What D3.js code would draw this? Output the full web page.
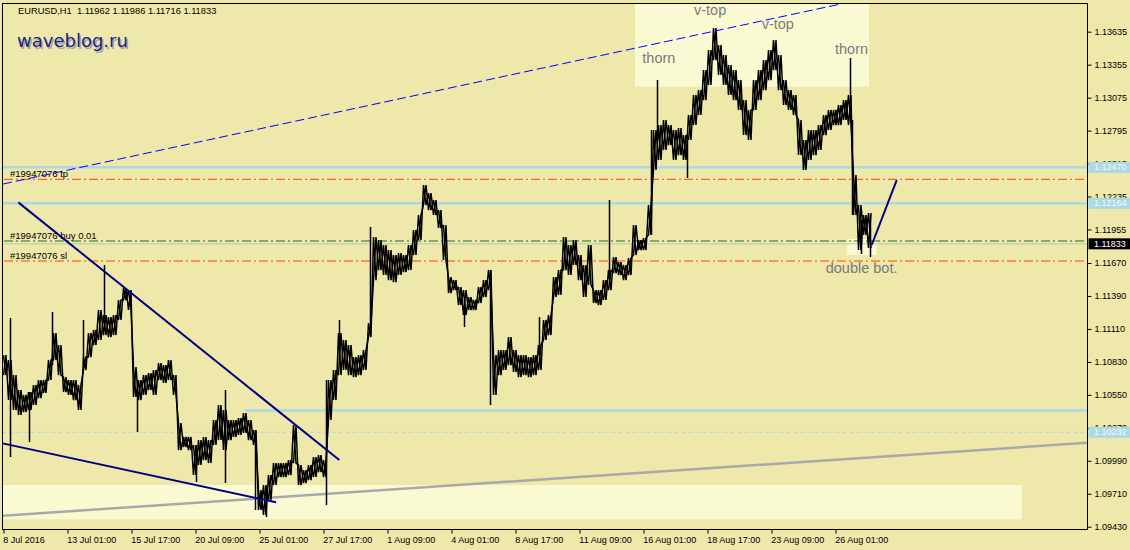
<!DOCTYPE html>
<html><head><meta charset="utf-8">
<script src="https://cdn.jsdelivr.net/npm/d3@7"></script>
<style>html,body{margin:0;padding:0;background:#EEE8AA;}svg{display:block}</style>
</head><body><svg id="c" width="1130" height="550"></svg>
<script>
// ---------------- DATA ----------------
const header = "EURUSD,H1  1.11962 1.11986 1.11716 1.11833";
const watermark = "waveblog.ru";
const STEP = 5; // hourly bars per sample
const hi = [1.10888,1.10846,1.10718,1.10591,1.10549,1.10574,1.10634,1.10676,1.10676,1.10846,
1.11075,1.10973,1.10701,1.10676,1.10676,1.10634,1.10871,1.11075,1.11101,1.11271,
1.11228,1.11211,1.11228,1.11356,1.11457,1.11440,1.10786,1.10676,1.10718,1.10735,
1.10761,1.10820,1.10803,1.10846,1.10718,1.10311,1.10192,1.10192,1.10124,1.10166,
1.10192,1.10166,1.10336,1.10464,1.10421,1.10336,1.10336,1.10353,1.10396,1.10336,
1.10251,1.09742,1.09784,1.09869,1.09971,1.09971,1.09971,1.09996,1.10294,1.09954,
1.09911,1.09954,1.10022,1.10039,1.09996,1.10676,1.10761,1.11075,1.11016,1.10973,
1.10871,1.10888,1.10931,1.11160,1.11891,1.11865,1.11823,1.11780,1.11738,1.11755,
1.11738,1.11823,1.11950,1.12078,1.12332,1.12264,1.12205,1.12120,1.11993,1.11551,
1.11525,1.11466,1.11440,1.11381,1.11356,1.11466,1.11525,1.11610,1.10888,1.10931,
1.10931,1.11041,1.10931,1.10888,1.10888,1.10871,1.10888,1.10973,1.11186,1.11228,
1.11551,1.11610,1.11891,1.11823,1.11865,1.11738,1.11653,1.11823,1.11440,1.11440,
1.11525,1.11610,1.11721,1.11678,1.11653,1.11712,1.11993,1.11865,1.11882,1.12163,
1.12800,1.12842,1.12885,1.12842,1.12800,1.12817,1.12757,1.12927,1.13097,1.13139,
1.13309,1.13479,1.13666,1.13522,1.13437,1.13352,1.13309,1.13224,1.13054,1.12970,
1.13224,1.13309,1.13394,1.13479,1.13564,1.13437,1.13224,1.13139,1.13097,1.12885,
1.12715,1.12800,1.12800,1.12842,1.12927,1.12970,1.12970,1.13012,1.13054,1.13097,
1.12417,1.12163,1.12078,1.12095];
const lo = [1.10718,1.10506,1.10421,1.10379,1.10404,1.10421,1.10464,1.10523,1.10566,1.10676,
1.10846,1.10718,1.10574,1.10549,1.10506,1.10421,1.10761,1.10871,1.10973,1.11016,
1.11058,1.11041,1.11058,1.11186,1.11356,1.11271,1.10532,1.10506,1.10549,1.10591,
1.10549,1.10676,1.10651,1.10676,1.10549,1.10081,1.10107,1.10081,1.09869,1.09954,
1.09996,1.09971,1.10124,1.10166,1.10081,1.10166,1.10192,1.10209,1.10226,1.10166,
1.10124,1.09572,1.09529,1.09657,1.09784,1.09852,1.09852,1.09869,1.09971,1.09784,
1.09801,1.09826,1.09852,1.09894,1.09852,1.10336,1.10506,1.10718,1.10761,1.10718,
1.10701,1.10718,1.10761,1.11041,1.11525,1.11610,1.11568,1.11525,1.11508,1.11568,
1.11593,1.11610,1.11738,1.11865,1.12163,1.12120,1.12078,1.11967,1.11695,1.11415,
1.11440,1.11313,1.11228,1.11271,1.11271,1.11330,1.11381,1.11440,1.10549,1.10718,
1.10761,1.10803,1.10744,1.10701,1.10718,1.10701,1.10718,1.10761,1.11016,1.11058,
1.11381,1.11398,1.11610,1.11568,1.11653,1.11525,1.11381,1.11483,1.11330,1.11313,
1.11356,1.11440,1.11585,1.11568,1.11525,1.11568,1.11738,1.11780,1.11780,1.11908,
1.12460,1.12545,1.12630,1.12672,1.12545,1.12587,1.12545,1.12715,1.12842,1.12927,
1.13054,1.13182,1.13394,1.13267,1.13182,1.13097,1.13054,1.12970,1.12757,1.12715,
1.12970,1.13054,1.13139,1.13224,1.13309,1.13139,1.13012,1.12970,1.12927,1.12587,
1.12460,1.12545,1.12587,1.12630,1.12757,1.12800,1.12842,1.12842,1.12885,1.12842,
1.12078,1.11780,1.11908,1.11797];
const spikeIdx = [7,26,49,80,101,134,193,222,252,263,323,336,367,461,487,536,606,648,654,684,847,849,858,867];
const spikeHi = [1.11203,1.10574,1.11254,1.11186,1.11653,1.10676,1.10124,1.10591,1.10251,1.09742,1.10676,1.11186,1.11976,1.11356,1.11610,1.11211,1.12205,1.12800,1.13224,1.12757,1.13411,1.12885,1.12035,1.12078];
const spikeLo = [1.10022,1.10149,1.10803,1.10803,1.11186,1.10234,1.09809,1.09801,1.09572,1.09512,1.09614,1.10846,1.11058,1.11126,1.10464,1.10931,1.11525,1.11908,1.12715,1.12392,1.12885,1.12078,1.11746,1.11721];

const yTickVals = [1.13635,1.13355,1.13075,1.12795,1.12515,1.12235,1.11955,1.11670,1.11390,1.11110,1.10830,1.10550,1.10270,1.09990,1.09710,1.09430];
const xTickIdx = [0,64,128,192,256,320,384,448,512,576,640,704,768,832];
const xTickLabels = ["8 Jul 2016","13 Jul 01:00","15 Jul 17:00","20 Jul 09:00","25 Jul 01:00","27 Jul 17:00","1 Aug 09:00","4 Aug 01:00","8 Aug 17:00","11 Aug 09:00","16 Aug 01:00","18 Aug 17:00","23 Aug 09:00","26 Aug 01:00"];

// order lines
const orderNames = ["#19947076 tp","#19947076 buy 0.01","#19947076 sl"];
const orderPrices = [1.12381,1.11857,1.11687];
// horizontal levels (light blue)
const levelPrices = [1.12483,1.12177];
const levelLabels = ["1.12470","1.12164"];
const supportPrice = 1.10417, supportStartIdx = 241.5;
const dashedLevel = 1.10232, dashedLabel = "1.10232";
const bidPrice = 1.11833, bidLabel = "1.11833";
// trend lines [idx1, price1, idx2, price2]
const blueDashed = [-0.5,1.12341,843,1.13881];
const navyUpper = [14.8,1.12185,335.8,1.09996];
const navyLower = [-0.8,1.10138,272.5,1.09637];
const grayRising = [-0.8,1.09523,1083.2,1.10143];
const navyProjection = [868.2,1.11823,893.2,1.12375];
// rectangles [idx1, price1, idx2, price2]
const boxes = [[631.5,1.13900,865.5,1.13168],[-1.5,1.09784,1018.5,1.09492],[843.2,1.11874,873.2,1.11738]];
// annotations
const annoText = ["v-top","v-top","thorn","thorn","double bot."];
const annoIdx = [690.5,758.2,638.8,831.5,822.2];
const annoPrice = [1.13777,1.13660,1.13371,1.13443,1.11582];

// ---------------- DRAW ----------------
const svg = d3.select("#c");
const PL = 2.5, PT = 3.5, PR = 1087.5, PB = 529.5;
const x = d3.scaleLinear().domain([0, 1000]).range([3.5, 1003.5]);
const y = d3.scaleLinear().domain([1.09430, 1.13635]).range([526.7, 31.7]);
const FONT = "Liberation Sans, Arial, sans-serif";

svg.append("rect").attr("width",1130).attr("height",550).attr("fill","#EEE8AA");
svg.append("defs").append("clipPath").attr("id","plot").append("rect")
  .attr("x",PL).attr("y",PT).attr("width",PR-PL).attr("height",PB-PT);
const g = svg.append("g").attr("clip-path","url(#plot)");

// boxes
g.selectAll("rect.box").data(boxes).join("rect").attr("class","box")
  .attr("x",d=>x(d[0])).attr("y",d=>y(d[1]))
  .attr("width",d=>x(d[2])-x(d[0])).attr("height",d=>y(d[3])-y(d[1]))
  .attr("fill","#FAFAD2");

// horizontal lines
function hline(p, x0, color, w, dash){
  g.append("line").attr("x1",x0).attr("x2",PR).attr("y1",y(p)).attr("y2",y(p))
   .attr("stroke",color).attr("stroke-width",w).attr("stroke-dasharray",dash||null);
}
levelPrices.forEach(p=>hline(p,PL,"#ADD8E6",2.5));
hline(supportPrice, x(supportStartIdx), "#ADD8E6", 2.5);
hline(dashedLevel, PL, "#ADD8E6", 1, "4,3");
hline(orderPrices[0], 4, "#FF4500", 1, "9,3,2,3");
hline(orderPrices[2], 4, "#FF4500", 1, "9,3,2,3");
hline(orderPrices[1], 4, "#107A10", 1, "9,3,2,3");
hline(bidPrice, PL, "#C0C0C0", 1);

// order descriptions
g.selectAll("text.ord").data(orderNames).join("text").attr("class","ord")
  .attr("x",10).attr("y",(d,i)=>y(orderPrices[i])-2.3)
  .attr("font-family",FONT).attr("font-size",9.5).attr("fill","#000").text(d=>d);

// trend lines
function tline(t,color,w,dash){
  g.append("line").attr("x1",x(t[0])).attr("y1",y(t[1])).attr("x2",x(t[2])).attr("y2",y(t[3]))
   .attr("stroke",color).attr("stroke-width",w).attr("stroke-dasharray",dash||null);
}
tline(grayRising,"#A9A9A9",2.5);

// price: two crossing zig-zags between high and low of each sample (bar texture)
const zA = [], zB = [];
hi.forEach((h,i)=>{
  zA.push([x(i*STEP), y(h)]); zA.push([x(i*STEP+STEP/2), y(lo[i])]);
  zB.push([x(i*STEP), y(lo[i])]); zB.push([x(i*STEP+STEP/2), y(h)]);
});
[zA,zB].forEach(z=>g.append("path").attr("d", d3.line()(z)).attr("fill","none").attr("stroke","#000")
  .attr("stroke-width",1.5).attr("stroke-linejoin","miter").attr("stroke-miterlimit",2));
g.selectAll("line.sp").data(spikeIdx).join("line").attr("class","sp")
  .attr("x1",d=>x(d)).attr("x2",d=>x(d))
  .attr("y1",(d,i)=>y(spikeHi[i])).attr("y2",(d,i)=>y(spikeLo[i]))
  .attr("stroke","#000").attr("stroke-width",1.5);

tline(blueDashed,"#0000FF",1,"9,4");
tline(navyUpper,"#000080",2);
tline(navyLower,"#000080",2);
tline(navyProjection,"#000080",2);

// annotations
g.selectAll("text.anno").data(annoText).join("text").attr("class","anno")
  .attr("x",(d,i)=>x(annoIdx[i])).attr("y",(d,i)=>y(annoPrice[i]))
  .attr("font-family",FONT).attr("font-size",14.5).attr("fill","#7a7a7a").text(d=>d);

// header & watermark
svg.append("text").attr("x",18).attr("y",14).attr("font-family",FONT).attr("font-size",9.3)
  .attr("fill","#000").attr("xml:space","preserve").style("white-space","pre").text(header);
svg.append("text").attr("x",18.5).attr("y",48.5).attr("font-family","DejaVu Sans, sans-serif")
  .attr("font-size",18).attr("fill","#a4a4b4").text(watermark);
svg.append("text").attr("x",17).attr("y",47).attr("font-family","DejaVu Sans, sans-serif")
  .attr("font-size",18).attr("fill","#24247c").text(watermark);

// axes
const ya = svg.append("g").attr("transform",`translate(${PR},0)`)
  .call(d3.axisRight(y).tickValues(yTickVals).tickFormat(d3.format(".5f")).tickSize(4).tickPadding(3));
ya.select(".domain").remove();
ya.selectAll("text").attr("font-family",FONT).attr("font-size",9).attr("fill","#000");
ya.selectAll("line").attr("stroke","#000");

const xa = svg.append("g").attr("transform",`translate(0,${PB})`)
  .call(d3.axisBottom(x).tickValues(xTickIdx).tickFormat((d,i)=>xTickLabels[i]).tickSize(4).tickPadding(3));
xa.select(".domain").remove();
xa.selectAll("text").attr("font-family",FONT).attr("font-size",9).attr("fill","#000")
  .attr("text-anchor","start").attr("x",-0.7);
xa.selectAll("line").attr("stroke","#000");

// price labels on the axis
const plabels = [
  {p:levelPrices[0], t:levelLabels[0], bg:"#ADD8E6", fg:"#F4F8FA"},
  {p:levelPrices[1], t:levelLabels[1], bg:"#ADD8E6", fg:"#F4F8FA"},
  {p:dashedLevel, t:dashedLabel, bg:"#ADD8E6", fg:"#F4F8FA"},
  {p:bidPrice, t:bidLabel, bg:"#000", fg:"#FFF"}];
const pl = svg.selectAll("g.pl").data(plabels).join("g").attr("class","pl")
  .attr("transform",d=>`translate(0,${y(d.p)})`);
pl.append("rect").attr("x",PR+1).attr("y",-5.5).attr("width",1130-PR).attr("height",11).attr("fill",d=>d.bg);
pl.append("text").attr("x",1094).attr("dy","0.32em").attr("font-family",FONT).attr("font-size",9)
  .attr("fill",d=>d.fg).text(d=>d.t);

// frame
svg.append("rect").attr("x",PL).attr("y",PT).attr("width",PR-PL).attr("height",PB-PT)
  .attr("fill","none").attr("stroke","#000").attr("stroke-width",1);
</script></body></html>
